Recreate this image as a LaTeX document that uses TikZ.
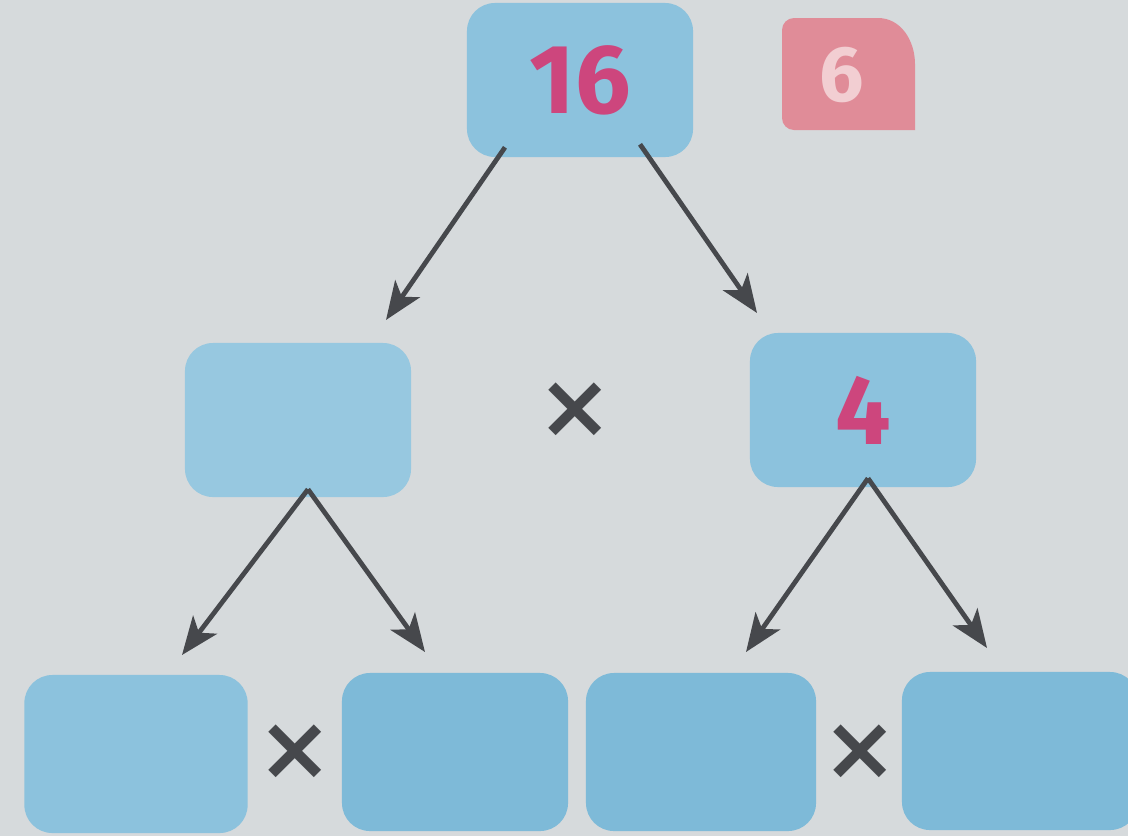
\documentclass[tikz,border=0pt]{standalone}
\usepackage{fontspec}
\setsansfont{Fira Sans}
\newfontfamily\symfont{DejaVu Sans}
\usepackage{tikz}
\usetikzlibrary{arrows.meta,calc,positioning}
\definecolor{bgcol}{RGB}{214,218,220}
\definecolor{boxblue}{RGB}{140,194,221}
\definecolor{boxdeep}{RGB}{126,186,216}
\definecolor{numpink}{RGB}{205,70,125}
\definecolor{badgepink}{RGB}{224,140,152}
\definecolor{badgetext}{RGB}{242,206,210}
\definecolor{arrgray}{RGB}{70,72,76}

\begin{document}
\begin{tikzpicture}[x=0.025cm,y=-0.025cm,
    numbox/.style={rectangle, rounded corners=0.7cm, fill=boxblue, inner sep=0pt,
      minimum width=5.65cm, minimum height=3.85cm,
      font=\sffamily\bfseries\fontsize{70}{70}\selectfont, text=numpink},
    lowbox/.style={numbox, fill=boxdeep, minimum height=3.95cm},
    times/.style={inner sep=0pt, text=arrgray, font=\symfont\bfseries\fontsize{64}{64}\selectfont},
    arr/.style={-{Stealth[length=0.95cm,width=0.75cm,inset=0.25cm]}, line width=3.4pt, draw=arrgray}]
        % Draw the page
        \fill[bgcol] (0,0) rectangle (1128,836);
        \useasboundingbox (0,0) rectangle (1128,836);
        % top row
        \node[numbox] (top) at (580,80) {16};
        \fill[badgepink] (782,30) to[out=90,in=180] (794,18) -- (878,18)
          to[out=0,in=90] (915,64) -- (915,130) -- (794,130) to[out=180,in=270] (782,118) -- cycle;
        \node[text=badgetext, font=\sffamily\bfseries\fontsize{56}{56}\selectfont] (page) at (842,75) {6};
        % middle row
        \node[numbox, fill=boxblue!90!white] (midL) at (298,420) {};
        \node[numbox] (midR) at (863,410) {4};
        \node[times] (tmid) at (575,410) {×};
        % bottom row
        \node[lowbox, fill=boxblue, minimum width=5.58cm] (b1) at (136,754) {};
        \node[lowbox, minimum width=5.65cm] (b2) at (455,752) {};
        \node[lowbox, minimum width=5.75cm] (b3) at (701,752) {};
        \node[lowbox, minimum width=5.9cm] (b4) at (1020,751) {};
        \node[times] (tb1) at (295,752) {×};
        \node[times] (tb2) at (860,752) {×};
        % arrows
        \coordinate (tipA) at (386,320);
        \coordinate (tipB) at (757,313);
        \coordinate (tipC) at (182,655);
        \coordinate (tipD) at (425,652);
        \coordinate (tipE) at (746,652);
        \coordinate (tipF) at (987,648);
        \draw[arr] ($(top.south)+(-75,-10)$) -- (tipA);
        \draw[arr] ($(top.south)+(60,-13)$) -- (tipB);
        \draw[arr] ($(midL.south)+(10,-8)$) -- (tipC);
        \draw[arr] ($(midL.south)+(10,-8)$) -- (tipD);
        \draw[arr] ($(midR.south)+(5,-9)$) -- (tipE);
        \draw[arr] ($(midR.south)+(5,-9)$) -- (tipF);
      \end{tikzpicture}
\end{document}
